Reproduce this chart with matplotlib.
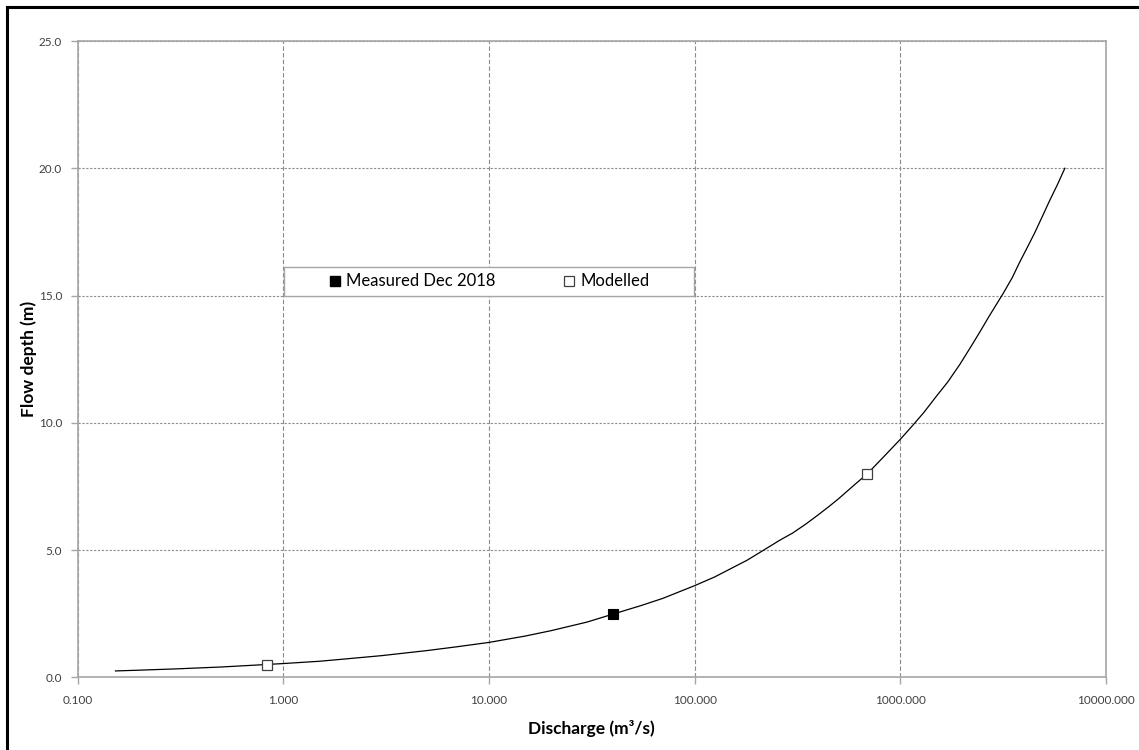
import matplotlib
matplotlib.use("Agg")
import matplotlib.pyplot as plt
from matplotlib.ticker import FormatStrFormatter, FixedLocator, NullLocator
from matplotlib.patches import Rectangle
from matplotlib.lines import Line2D

plt.rcParams['font.family'] = ['Lato', 'DejaVu Sans']

# Rating curve (discharge m3/s, depth m)
curve_q = [0.153, 0.2, 0.3, 0.5, 0.7, 1.0, 1.5, 2.0, 3.0, 5.0, 7.0, 10.0, 15.0, 20.0, 30.0, 40.0,
           55.0, 70.0, 100.0, 125.0, 150.0, 180.0, 217.0, 260.0, 300.0, 350.0, 400.0, 450.0,
           500.0, 600.0, 692.0, 850.0, 1000.0, 1150.0, 1300.0, 1500.0, 1700.0, 1950.0, 2200.0,
           2450.0, 2700.0, 3162.0, 3500.0, 3800.0, 4150.0, 4500.0, 4900.0, 5300.0, 5800.0, 6310.0]
curve_h = [0.25, 0.28, 0.33, 0.405, 0.47, 0.54, 0.63, 0.72, 0.85, 1.05, 1.20, 1.37, 1.62, 1.83,
           2.17, 2.48, 2.82, 3.10, 3.60, 3.94, 4.27, 4.60, 5.0, 5.39, 5.67, 6.04, 6.39, 6.71,
           7.01, 7.57, 8.0, 8.75, 9.35, 9.90, 10.4, 11.05, 11.6, 12.3, 12.98, 13.6, 14.18,
           15.08, 15.7, 16.3, 16.9, 17.46, 18.1, 18.7, 19.35, 20.0]

measured_q = [40.0]
measured_h = [2.5]
modelled_q = [0.83, 692.0]
modelled_h = [0.5, 8.0]

x_ticks = [0.1, 1, 10, 100, 1000, 10000]
y_ticks = [0, 5, 10, 15, 20, 25]

W, H = 1139, 750
fig = plt.figure(figsize=(W / 100, H / 100), dpi=100)
ax = fig.add_axes([77.5 / W, 1 - 677.3 / H, (1106 - 77.5) / W, (677.3 - 41) / H])

ax.plot(curve_q, curve_h, color='black', lw=0.9, zorder=3)
ax.plot(measured_q, measured_h, ls='none', marker='s', ms=7.5, mfc='black', mec='black',
        mew=0.8, zorder=4)
ax.plot(modelled_q, modelled_h, ls='none', marker='s', ms=7.5, mfc='white', mec='#404040',
        mew=0.9, zorder=4)

ax.set_xscale('log')
ax.set_xlim(0.1, 10000)
ax.set_ylim(0, 25)
ax.xaxis.set_major_locator(FixedLocator(x_ticks))
ax.xaxis.set_minor_locator(NullLocator())
ax.yaxis.set_major_locator(FixedLocator(y_ticks))
ax.xaxis.set_major_formatter(FormatStrFormatter('%.3f'))
ax.yaxis.set_major_formatter(FormatStrFormatter('%.1f'))

grey = '#a6a6a6'
for s in ax.spines.values():
    s.set_color(grey)
    s.set_linewidth(1.2)

ax.tick_params(axis='both', which='major', direction='out', length=5, width=1.0, color=grey,
               labelsize=8.5, labelcolor='#404040')
ax.tick_params(axis='x', pad=8)
ax.tick_params(axis='y', pad=6)

ax.grid(axis='x', which='major', color='#8c8c8c', lw=0.8, ls=(0, (4, 2)))
ax.grid(axis='y', which='major', color='#8c8c8c', lw=0.8, ls=(0, (2, 1.5)))
ax.set_axisbelow(True)

ax.set_xlabel('Discharge (m³/s)', fontsize=12.5, fontweight='bold', labelpad=10)
ax.set_ylabel('Flow depth (m)', fontsize=12.5, fontweight='bold')
ax.yaxis.set_label_coords(-0.0394, 0.5)

# legend
handles = [Line2D([], [], ls='none', marker='s', ms=7.5, mfc='black', mec='black'),
           Line2D([], [], ls='none', marker='s', ms=7.5, mfc='white', mec='#404040', mew=0.9)]
leg = ax.legend(handles, ['Measured Dec 2018', 'Modelled'], ncol=2, frameon=False,
                loc='center', bbox_to_anchor=((489 - 77.5) / 1028.5, (677.3 - 281.5) / 636.3),
                fontsize=12, handlelength=0.8, handletextpad=0.3, columnspacing=4.0,
                borderpad=0.3)
ax.add_patch(Rectangle(((284 - 77.5) / 1028.5, (677.3 - 295.7) / 636.3), 410 / 1028.5,
                       28.4 / 636.3, transform=ax.transAxes, fill=True, facecolor='white',
                       edgecolor=grey, lw=1.0, zorder=5))
leg.set_zorder(6)

# partial outer frame (left and top)
fig.add_artist(Line2D([7 / W, 7 / W], [0, 1 - 7 / H], color='black', lw=2.2))
fig.add_artist(Line2D([7 / W, 1], [1 - 7 / H, 1 - 7 / H], color='black', lw=2.2))

fig.savefig('out.png', dpi=100)
